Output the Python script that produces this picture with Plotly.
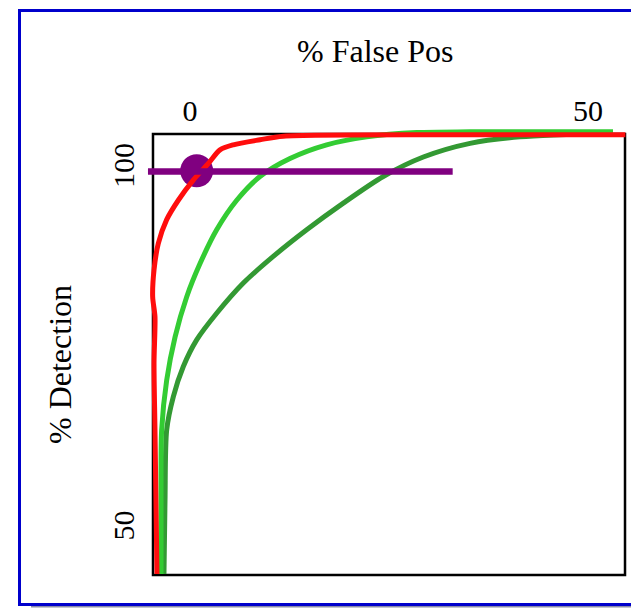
import plotly.graph_objects as go

# ---- data ----
red_x = [-4.15, -4.40, -4.52, -4.40, -4.69, -4.52, -3.98, -2.93, -1.47, 0.41, 2.30, 3.77, 5.44, 8.79, 11.72, 35.18, 54.7]
red_y = [43.9, 63.9, 73.2, 79.6, 82.4, 86.1, 89.8, 93.1, 95.8, 98.6, 100.9, 102.8, 103.5, 104.2, 104.7, 104.9, 104.9]

lgreen_x = [-3.64, -3.64, -3.56, -2.93, -1.88, -0.41, 1.26, 3.35, 5.87, 8.79, 12.56, 17.17, 22.20, 28.48, 35.18, 53.14]
lgreen_y = [43.9, 54.2, 63.9, 70.8, 76.8, 82.4, 87.0, 91.7, 95.8, 99.1, 101.6, 103.5, 104.6, 105.2, 105.3, 105.3]

dgreen_x = [-3.27, -3.14, -2.93, -2.10, -0.84, 0.84, 3.35, 6.70, 10.46, 14.66, 19.26, 24.28, 29.31, 35.18, 41.46, 53.14]
dgreen_y = [43.9, 54.2, 63.9, 68.5, 72.7, 76.4, 80.1, 84.3, 88.0, 91.7, 95.4, 99.1, 101.8, 103.7, 104.6, 105.1]

target_x = [-5.28, 33.0]
target_y = [99.8, 99.8]
point_x = [0.84]
point_y = [99.9]

x_ticks = [0, 50]
x_tick_text = ["0", "50"]
y_ticks = [50, 100]
y_tick_text = ["50", "100"]

x_title = "% False Pos"
y_title = "% Detection"

# ---- layout geometry (reference pixels) ----
W, H = 631, 608
L, R, T, B = 140, 0, 126, 608 - 582
pw, ph = W - L - R, H - T - B

def px(x):
    return (x - L) / pw

def py(y):
    return (H - B - y) / ph

FONT = "Liberation Serif, Times New Roman, serif"

fig = go.Figure()
fig.add_trace(go.Scatter(x=dgreen_x, y=dgreen_y, mode="lines",
                         line=dict(color="#339933", width=5, shape="spline", smoothing=0.8), hoverinfo="skip"))
fig.add_trace(go.Scatter(x=lgreen_x, y=lgreen_y, mode="lines",
                         line=dict(color="#33cc33", width=5, shape="spline", smoothing=0.8), hoverinfo="skip"))
fig.add_trace(go.Scatter(x=point_x, y=point_y, mode="markers",
                         marker=dict(color="#800080", size=33, line=dict(width=0)), hoverinfo="skip"))
fig.add_trace(go.Scatter(x=red_x, y=red_y, mode="lines",
                         line=dict(color="#ff0d0d", width=5, shape="spline", smoothing=0.8), hoverinfo="skip"))
fig.add_trace(go.Scatter(x=target_x, y=target_y, mode="lines",
                         line=dict(color="#800080", width=6.5), hoverinfo="skip"))

shapes = [
    # plot box
    dict(type="rect", xref="x", yref="y", x0=-4.65, x1=54.65, y0=43.75, y1=105.0,
         line=dict(color="black", width=2.5), layer="below"),
    # outer blue frame shadow
    dict(type="line", xref="paper", yref="paper", x0=px(31), x1=px(660), y0=py(606.5), y1=py(606.5),
         line=dict(color="#8a8aa8", width=2)),
    # outer blue frame
    dict(type="rect", xref="paper", yref="paper", x0=px(19.5), x1=px(680), y0=py(604.5), y1=py(10.5),
         line=dict(color="#0000cc", width=3)),
]

annotations = [
    dict(text=x_title, xref="paper", yref="paper", x=px(375), y=py(51), showarrow=False,
         font=dict(family=FONT, size=32, color="black"), xanchor="center", yanchor="middle"),
    dict(text=y_title, xref="paper", yref="paper", x=px(60), y=py(365), showarrow=False, textangle=-90,
         font=dict(family=FONT, size=32, color="black"), xanchor="center", yanchor="middle"),
]

fig.update_layout(
    width=W, height=H,
    margin=dict(l=L, r=R, t=T, b=B, pad=0),
    paper_bgcolor="white", plot_bgcolor="white",
    showlegend=False,
    hovermode=False,
    shapes=shapes,
    annotations=annotations,
    xaxis=dict(range=[(140 - 190) / 7.96, (631 - 190) / 7.96], side="top",
               tickvals=x_ticks, ticktext=x_tick_text, ticks="", showgrid=False, zeroline=False,
               showline=False, tickfont=dict(family=FONT, size=30, color="black"), ticklabelstandoff=-2),
    yaxis=dict(range=[100 - (582 - 170) / 7.2, 100 - (126 - 170) / 7.2],
               tickvals=y_ticks, ticktext=y_tick_text, ticks="", showgrid=False, zeroline=False,
               showline=False, tickangle=-90, tickfont=dict(family=FONT, size=30, color="black"), ticklabelstandoff=-1),
)

fig.write_html("out.html",
               config={"displayModeBar": False, "staticPlot": True},
               post_script="document.body.style.margin='0';document.body.style.overflow='hidden';")
